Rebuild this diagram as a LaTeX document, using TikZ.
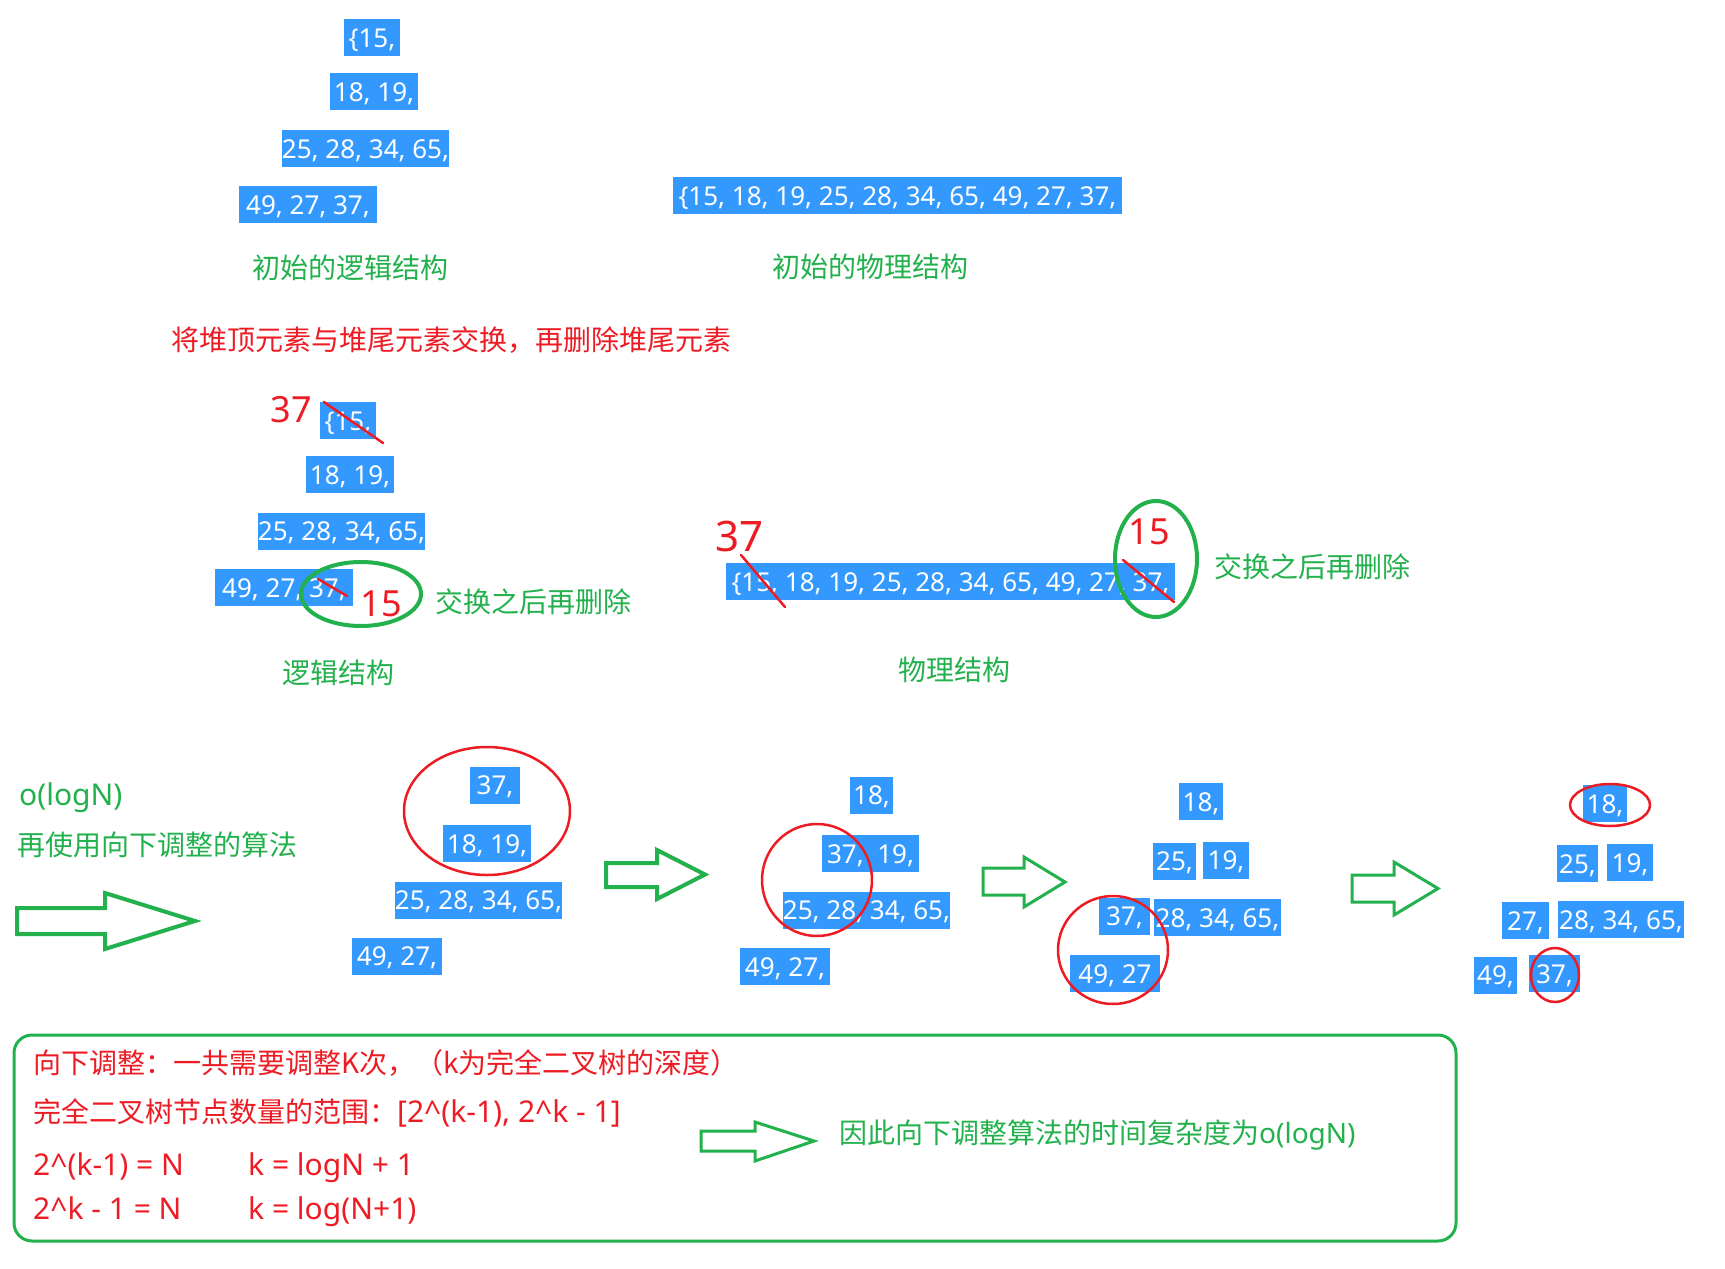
\documentclass[tikz,border=0pt]{standalone}
\usepackage{fontspec}
\newfontfamily\cjk{Noto Sans CJK SC}
\newfontfamily\lat{Noto Sans}
\definecolor{selblue}{RGB}{51,153,255}
\definecolor{pgreen}{RGB}{34,177,76}
\definecolor{pred}{RGB}{237,28,36}
\begin{document}
\begin{tikzpicture}[x=1pt,y=-1pt,
  bbox/.style={fill=selblue,text=white,inner sep=0pt,minimum height=37pt,
    font=\lat\fontsize{26}{30}\selectfont,text height=19.5pt,text depth=0pt},
  gtxt/.style={text=pgreen,inner sep=0pt,anchor=west,
    font=\cjk\fontsize{28}{34}\selectfont,text height=24.6pt,text depth=3.4pt},
  rtxt/.style={text=pred,inner sep=0pt,anchor=west,
    font=\cjk\fontsize{28}{34}\selectfont,text height=24.6pt,text depth=3.4pt},
  lfont/.style={font=\lat\fontsize{30}{36}\selectfont},
  hand/.style={text=pred,inner sep=0pt,font=\lat\fontsize{36}{40}\selectfont},
  strike/.style={draw=pred,line width=2.5pt,line cap=round},
  gring/.style={draw=pgreen,line width=4pt},
  rring/.style={draw=pred,line width=2.5pt},
  harrow/.style={draw=pgreen,line join=miter},
]
\useasboundingbox[fill=white] (0,0) rectangle (1725,1269);

% ---------- initial structures ----------
\node[bbox,minimum width=56pt]  (a1) at (372,37.5)   {\{15,};
\node[bbox,minimum width=88pt]  (a2) at (374,91.5)   {18, 19,};
\node[bbox,minimum width=167pt] (a3) at (365.5,148.5){25, 28, 34, 65,};
\node[bbox,minimum width=138pt] (a4) at (308,204.5)  {49, 27, 37,};
\node[bbox,minimum width=449pt] (p1) at (897.5,195.5){\{15, 18, 19, 25, 28, 34, 65, 49, 27, 37,};
\node[gtxt] (l1) at (252,268) {初始的逻辑结构};
\node[gtxt] (l2) at (772,267) {初始的物理结构};

\node[rtxt] (title) at (171,340) {将堆顶元素与堆尾元素交换，再删除堆尾元素};

% ---------- swap ----------
\node[bbox,minimum width=56pt]  (b1) at (348,420.5)  {\{15,};
\node[bbox,minimum width=88pt]  (b2) at (350,474.5)  {18, 19,};
\node[bbox,minimum width=167pt] (b3) at (341.5,531)  {25, 28, 34, 65,};
\node[bbox,minimum width=138pt] (b4) at (284,587.5)  {49, 27, 37,};
\node[hand] (h1) at (291,410) {37};
\draw[strike] (324,402) -- (383,443);
\draw[strike] (318,579) -- (347,596);
\draw[gring] (361,594) ellipse [x radius=60, y radius=32];
\node[hand] (h2) at (381.5,603.5) {15};
\node[gtxt] (sw1) at (435,602) {交换之后再删除};
\node[gtxt] (l3) at (282,673) {逻辑结构};

\node[bbox,minimum width=449pt] (p2) at (950.5,581.5){\{15, 18, 19, 25, 28, 34, 65, 49, 27, 37,};
\node[hand,font=\lat\fontsize{42}{46}\selectfont] (h3) at (739.5,536) {37};
\draw[strike] (741,555) -- (785,607);
\draw[gring] (1156,559) ellipse [x radius=41, y radius=58];
\node[hand] (h4) at (1149.5,531.5) {15};
\draw[strike] (1123,560) -- (1174,602);
\node[gtxt] (sw2) at (1214,567) {交换之后再删除};
\node[gtxt] (l4) at (898,670) {物理结构};

% ---------- sift down ----------
\node[gtxt,lfont] (ol) at (19,795) {o(logN)};
\node[gtxt] (alg) at (17,845) {再使用向下调整的算法};
\draw[harrow,line width=4pt] (17,908) -- (105,908) -- (105,893) -- (195,921) -- (105,949) -- (105,934) -- (17,934) -- cycle;

\node[bbox,minimum width=50pt]  (c1) at (495,785)    {37,};
\node[bbox,minimum width=88pt]  (c2) at (487,843.5)  {18, 19,};
\node[bbox,minimum width=167pt] (c3) at (478.5,900)  {25, 28, 34, 65,};
\node[bbox,minimum width=90pt]  (c4) at (397,956)    {49, 27,};
\draw[rring] (487,811) ellipse [x radius=83, y radius=64];

\draw[harrow,line width=4pt] (606,863) -- (657,863) -- (657,850) -- (705,874.5) -- (657,899) -- (657,887) -- (606,887) -- cycle;

\node[bbox,minimum width=43pt]  (d1) at (871.5,795)  {18,};
\node[bbox,minimum width=97pt]  (d2) at (870.5,853.5){37,\ \ 19,};
\node[bbox,minimum width=167pt] (d3) at (866.5,910)  {25, 28, 34, 65,};
\node[bbox,minimum width=90pt]  (d4) at (785,966.5)  {49, 27,};
\draw[rring] (817,880) ellipse [x radius=55, y radius=56];

\draw[harrow,line width=3pt] (983,868) -- (1024,868) -- (1024,857) -- (1065,882) -- (1024,907) -- (1024,895) -- (983,895) -- cycle;

\node[bbox,minimum width=44pt]  (e1) at (1201,801.5) {18,};
\node[bbox,minimum width=43pt]  (e2) at (1174.5,861) {25,};
\node[bbox,minimum width=46pt]  (e3) at (1226,860)   {19,};
\node[bbox,minimum width=51pt]  (e4) at (1124.5,916) {37,};
\node[bbox,minimum width=127pt] (e5) at (1217.5,917.5){28, 34, 65,};
\node[bbox,minimum width=90pt]  (e6) at (1115,973.5) {49, 27};
\draw[rring] (1113,950) ellipse [x radius=55, y radius=54];

\draw[harrow,line width=3pt] (1352,875) -- (1394,875) -- (1394,862) -- (1438,888.5) -- (1394,915) -- (1394,902) -- (1352,902) -- cycle;

\node[bbox,minimum width=44pt]  (f1) at (1605,803.5) {18,};
\node[bbox,minimum width=41pt]  (f2) at (1577.5,863.5){25,};
\node[bbox,minimum width=46pt]  (f3) at (1630,862.5) {19,};
\node[bbox,minimum width=47pt]  (f4) at (1525.5,920.5){27,};
\node[bbox,minimum width=126pt] (f5) at (1621,919.5) {28, 34, 65,};
\node[bbox,minimum width=43pt]  (f6) at (1495.5,975) {49,};
\node[bbox,minimum width=51pt]  (f7) at (1554.5,973.5){37,};
\draw[rring] (1610,805) ellipse [x radius=40, y radius=21];
\draw[rring] (1555,975) ellipse [x radius=24, y radius=27];

% ---------- complexity box ----------
\draw[pgreen,line width=3pt,rounded corners=18pt] (14,1035) rectangle (1456,1241);
\node[rtxt] (k1) at (33,1063) {向下调整：一共需要调整K次，（k为完全二叉树的深度）};
\node[rtxt] (k2) at (33,1112) {完全二叉树节点数量的范围：{\lat\fontsize{30}{36}\selectfont [2\textasciicircum(k-1), 2\textasciicircum k - 1]}};
\node[rtxt,lfont] (k3a) at (33,1165) {2\textasciicircum(k-1) = N};
\node[rtxt,lfont] (k3b) at (248,1165) {k = logN + 1};
\node[rtxt,lfont] (k4a) at (33,1209) {2\textasciicircum k - 1 = N};
\node[rtxt,lfont] (k4b) at (248,1209) {k = log(N+1)};
\draw[harrow,line width=3pt] (701,1131) -- (755,1131) -- (755,1122) -- (814,1141) -- (755,1161) -- (755,1151) -- (701,1151) -- cycle;
\node[gtxt] (res) at (839,1133) {因此向下调整算法的时间复杂度为{\lat o(logN)}};
\end{tikzpicture}
\end{document}
